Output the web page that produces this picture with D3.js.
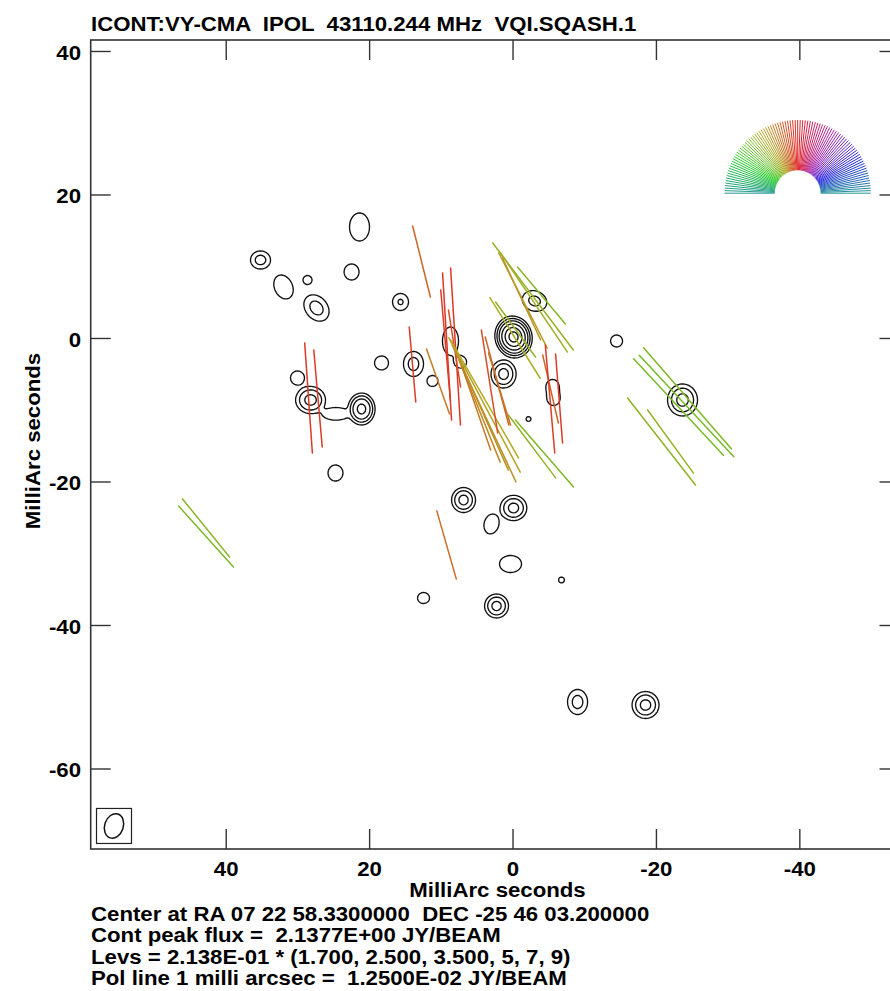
<!DOCTYPE html>
<html><head><meta charset="utf-8">
<script src="https://cdn.jsdelivr.net/npm/d3@7"></script>
<style>body{margin:0;background:#fff}svg{display:block}</style>
</head><body>
<script>
// ---------- data ----------
const title = "ICONT:VY-CMA  IPOL  43110.244 MHz  VQI.SQASH.1";
const xLabel = "MilliArc seconds";
const yLabel = "MilliArc seconds";
const xTicks = [40, 20, 0, -20, -40];
const yTicks = [40, 20, 0, -20, -40, -60];
const xDomain = [58.9, -53.9];
const yDomain = [41.6, -71.15];
const levBase = 0.2138;
const levMult = [1.7, 2.5, 3.5, 5, 7, 9];
const footer = [
  "Center at RA 07 22 58.3300000  DEC -25 46 03.200000",
  "Cont peak flux =  2.1377E+00 JY/BEAM",
  "Levs = 2.138E-01 * (1.700, 2.500, 3.500, 5, 7, 9)",
  "Pol line 1 milli arcsec =  1.2500E-02 JY/BEAM"
];
// continuum components (mas, Jy/beam, sigma mas, PA deg)
const srcX   = [21.41, 35.22, 32.01, 28.66, 22.52, 27.41, 15.69, 18.34, 13.88, 11.23, 30.06, 28.24, 21.13, 24.7, 24.76, 8.72, 7.32, -0.07, 1.32, -3.0, -5.51, -5.65, -2.16, -14.44, -23.64, 6.9, -0.07, 3.0, 0.35, -6.76, 12.48, 2.3, -9.0, -18.48];
const srcY   = [15.54, 10.94, 7.18, 8.15, 9.27, 4.25, 5.09, -3.41, -3.55, -5.92, -5.5, -8.57, -9.83, -10.5, -18.75, -0.35, -3.28, 0.21, -4.95, 5.23, -6.7, -8.35, -11.22, -0.35, -8.57, -22.51, -23.62, -25.85, -31.43, -33.66, -36.17, -37.28, -50.66, -51.08];
const srcAmp = [0.46, 0.62, 0.46, 0.46, 0.46, 0.62, 0.56, 0.46, 0.62, 0.46, 0.46, 0.85, 1.2, 0.5, 0.46, 0.46, 0.46, 2.1377, 0.85, 0.6, 0.46, 0.46, 0.38, 0.46, 0.85, 0.85, 0.85, 0.46, 0.46, 0.38, 0.46, 0.85, 0.62, 0.85];
const srcMaj = [2.85, 1.22, 2.54, 0.92, 1.63, 1.96, 1.275, 1.42, 1.69, 1.12, 1.42, 1.45, 1.44, 1.1, 1.63, 2.85, 1.22, 1.56, 1.5, 1.74, 1.45, 1.45, 1.17, 1.22, 1.71, 1.34, 1.35, 2.05, 1.73, 1.4, 1.12, 1.28, 1.69, 1.44];
const srcMin = [2.03, 1.35, 1.83, 0.92, 1.52, 1.48, 1.2, 1.42, 1.35, 1.12, 1.42, 1.60, 1.22, 2.4, 1.52, 1.63, 1.22, 1.37, 1.34, 1.39, 1.32, 1.32, 1.17, 1.22, 1.6, 1.28, 1.42, 1.5, 2.24, 1.4, 1.22, 1.28, 1.35, 1.44];
const srcPA  = [0, 0, 25, 0, 0, 40, 0, 0, 0, 0, 0, 0, 0, 0, 0, 0, 0, 15, 0, 70, 0, 0, 0, 0, 0, 0, 0, -15, 0, 0, 0, 0, 0, 0];
// polarization vectors: centre (mas), length (mas), EVPA (deg, N through E)
const polX   = [12.76, 28.52, 27.2, 14.02, 10.46, 9.2, 8.02, 9.41, 8.16, 3.97, 4.04, 4.32, 4.67, 5.09, 3.97, 3.28, 2.23, 1.88, -2.79, -2.93, -3.97, -1.39, -1.19, -0.28, -0.35, -5.23, -5.16, -6.42, -2.65, -4.39, -24.34, -24.2, -23.08, -20.71, -21.97, 42.82, 42.82, 9.27];
const polY   = [10.73, -8.29, -8.36, -3.62, -5.99, -1.11, -1.11, -0.91, -1.39, -9.27, -10.45, -10.1, -10.1, -9.83, -8.43, -5.99, -5.92, -7.04, 5.85, 5.02, 5.99, 5.3, 5.51, 0.07, 1.25, -7.04, -8.43, -8.36, -15.05, -16.03, -8.36, -9.41, -9.55, -14.36, -14.36, -26.41, -27.6, -28.78];
const polLen = [10.21, 15.38, 13.58, 10.49, 9.62, 20.54, 21.94, 15.41, 10.88, 21.2, 21.03, 18.05, 15.38, 12.08, 19.0, 14.53, 12.69, 10.5, 18.69, 16.67, 10.39, 14.91, 12.61, 13.24, 9.48, 9.75, 15.12, 12.45, 10.96, 12.36, 18.69, 19.34, 18.35, 15.4, 10.88, 10.42, 11.45, 9.89];
const polAng = [14, 4, 5, 5, 19.5, 3.5, 3.6, 5, 9, 28, 25, 24, 22, 19, 30, 9, 15, 17, 37, 34, 40, 27, 25, 32, 36, 13, 5, 4.5, 37, 41, 41, 43, 43, 38, 36, 39, 42, 16];
// restoring beam (mas, deg) and its box
const beam = {x: 55.65, y: -67.94, maj: 3.5, min: 2.6, pa: -18, box: 2.44};
// polarization-angle key
const keyCentre = [-39.7, 20.25];
const keyRadius = [3.2, 10.2];

// ---------- layout ----------
const W = 890, H = 991;
const px0 = 90.7, px1 = 899.5, py0 = 40, py1 = 849;
const xs = d3.scaleLinear().domain(xDomain).range([px0, px1]);
const ys = d3.scaleLinear().domain(yDomain).range([py0, py1]);
const FONT = "'Liberation Sans', Arial, Helvetica, sans-serif";
// AIPS-like colour wheel: red, olive-yellow, green, teal, blue, purple
const wheel = [[1,0,0],[0.75,0.7,0],[0,0.9,0],[0,0.6,0.6],[0,0,1],[0.7,0,0.7],[1,0,0]];
const polColor = a => {
  const h = (((2 * a) % 360) + 360) % 360, s = h / 60, k = Math.min(5, Math.floor(s)), f = s - k;
  const c0 = wheel[k], c1 = wheel[k + 1];
  const rgb = c0.map((v, i) => v + (c1[i] - v) * f);
  const m = 0.15;
  return d3.rgb(...rgb.map(v => 255 * (m + (1 - m) * v * 0.87))).formatHex();
};

const svg = d3.select("body").append("svg").attr("width", W).attr("height", H)
  .style("font-family", FONT).style("font-weight", "bold");

svg.append("defs").append("clipPath").attr("id", "clip")
  .append("rect").attr("x", px0).attr("y", py0).attr("width", px1 - px0).attr("height", py1 - py0);
const plot = svg.append("g").attr("clip-path", "url(#clip)");

// ---------- contour field ----------
const res = 0.2;
const nx = Math.ceil((xDomain[0] - xDomain[1]) / res) + 1;
const ny = Math.ceil((yDomain[0] - yDomain[1]) / res) + 1;
const values = new Float64Array(nx * ny);
srcX.forEach((sx, k) => {
  const sy = srcY[k], A = srcAmp[k], a = srcMaj[k], b = srcMin[k];
  const pa = srcPA[k] * Math.PI / 180, su = Math.sin(pa), cu = Math.cos(pa);
  const rad = 6 * Math.max(a, b);
  const i0 = Math.max(0, Math.floor((xDomain[0] - (sx + rad)) / res));
  const i1 = Math.min(nx - 1, Math.ceil((xDomain[0] - (sx - rad)) / res));
  const j0 = Math.max(0, Math.floor((yDomain[0] - (sy + rad)) / res));
  const j1 = Math.min(ny - 1, Math.ceil((yDomain[0] - (sy - rad)) / res));
  for (let j = j0; j <= j1; j++) {
    const dy = (yDomain[0] - j * res) - sy;
    for (let i = i0; i <= i1; i++) {
      const dx = (xDomain[0] - i * res) - sx;
      const u = dx * su + dy * cu, v = dx * cu - dy * su;
      const g = A * Math.exp(-0.5 * (u * u / (a * a) + v * v / (b * b)));
      values[j * nx + i] += Math.pow(g, 4);
    }
  }
});
for (let n = 0; n < values.length; n++) values[n] = Math.pow(values[n], 0.25);

const levels = levMult.map(m => m * levBase);
const contours = d3.contours().size([nx, ny]).thresholds(levels)(values);
const proj = d3.geoTransform({
  point: function (x, y) {
    this.stream.point(xs(xDomain[0] - (x - 0.5) * res), ys(yDomain[0] - (y - 0.5) * res));
  }
});
const path = d3.geoPath(proj);
plot.append("g").selectAll("path").data(contours).join("path")
  .attr("d", path).attr("fill", "none").attr("stroke", "#111").attr("stroke-width", 1.35)
  .attr("stroke-linejoin", "round");

// ---------- polarization vectors ----------
const polData = polX.map((x, k) => ({x, y: polY[k], L: polLen[k], a: polAng[k]}));
const seg = d => {
  const t = d.a * Math.PI / 180, h = d.L / 2;
  return [d.x + h * Math.sin(t), d.y + h * Math.cos(t), d.x - h * Math.sin(t), d.y - h * Math.cos(t)];
};
plot.append("g").selectAll("line").data(polData).join("line")
  .attr("x1", d => xs(seg(d)[0])).attr("y1", d => ys(seg(d)[1]))
  .attr("x2", d => xs(seg(d)[2])).attr("y2", d => ys(seg(d)[3]))
  .attr("stroke", d => polColor(d.a)).attr("stroke-width", 1.5).attr("stroke-linecap", "round");

// ---------- angle key ----------
const keyAngles = d3.range(-90, 90.01, 2);
plot.append("g").selectAll("line").data(keyAngles).join("line")
  .attr("x1", a => xs(keyCentre[0] + keyRadius[0] * Math.sin(a * Math.PI / 180)))
  .attr("y1", a => ys(keyCentre[1] + keyRadius[0] * Math.cos(a * Math.PI / 180)))
  .attr("x2", a => xs(keyCentre[0] + keyRadius[1] * Math.sin(a * Math.PI / 180)))
  .attr("y2", a => ys(keyCentre[1] + keyRadius[1] * Math.cos(a * Math.PI / 180)))
  .attr("stroke", a => polColor(a)).attr("stroke-width", 1);

// ---------- beam ----------
plot.append("rect")
  .attr("x", xs(beam.x + beam.box)).attr("y", ys(beam.y + beam.box))
  .attr("width", xs(beam.x - beam.box) - xs(beam.x + beam.box))
  .attr("height", ys(beam.y - beam.box) - ys(beam.y + beam.box))
  .attr("fill", "none").attr("stroke", "#222").attr("stroke-width", 1.2);
plot.append("ellipse")
  .attr("cx", xs(beam.x)).attr("cy", ys(beam.y))
  .attr("rx", Math.abs(xs(beam.min / 2) - xs(0))).attr("ry", Math.abs(ys(beam.maj / 2) - ys(0)))
  .attr("transform", `rotate(${-beam.pa},${xs(beam.x)},${ys(beam.y)})`)
  .attr("fill", "none").attr("stroke", "#111").attr("stroke-width", 1.5);

// ---------- frame, ticks ----------
const TL = 20;
const axes = svg.append("g").attr("stroke", "#333").attr("stroke-width", 1.4);
xTicks.forEach(t => {
  axes.append("line").attr("x1", xs(t)).attr("x2", xs(t)).attr("y1", py1).attr("y2", py1 - TL);
  axes.append("line").attr("x1", xs(t)).attr("x2", xs(t)).attr("y1", py0).attr("y2", py0 + TL);
});
yTicks.forEach(t => {
  axes.append("line").attr("x1", px0).attr("x2", px0 + TL).attr("y1", ys(t)).attr("y2", ys(t));
  axes.append("line").attr("x1", px1).attr("x2", px1 - TL).attr("y1", ys(t)).attr("y2", ys(t));
});
svg.append("rect").attr("x", px0).attr("y", py0).attr("width", px1 - px0).attr("height", py1 - py0)
  .attr("fill", "none").attr("stroke", "#333").attr("stroke-width", 1.6);

const FS = 20;
svg.append("g").selectAll("text").data(xTicks).join("text")
  .attr("x", d => xs(d)).attr("y", 876).attr("text-anchor", "middle")
  .attr("font-size", FS).text(d => d);
svg.append("g").selectAll("text").data(yTicks).join("text")
  .attr("x", 81).attr("y", d => ys(d) + 8.3).attr("text-anchor", "end")
  .attr("font-size", FS).text(d => d);

svg.append("text").attr("x", 91).attr("y", 30.5).attr("font-size", FS)
  .style("white-space", "pre").text(title);
svg.append("text").attr("x", 497.5).attr("y", 896.5).attr("text-anchor", "middle")
  .attr("font-size", FS).text(xLabel);
svg.append("text").attr("transform", "translate(40,441) rotate(-90)").attr("text-anchor", "middle")
  .attr("font-size", FS).text(yLabel);
svg.append("g").selectAll("text").data(footer).join("text")
  .attr("x", 91).attr("y", (d, i) => 920.7 + i * 21.5).attr("font-size", FS)
  .style("white-space", "pre").text(d => d);

// the original plot font is a little wider than Liberation Sans
svg.selectAll("text").each(function () {
  const w = this.getComputedTextLength();
  d3.select(this).attr("textLength", w * 1.11).attr("lengthAdjust", "spacingAndGlyphs");
});
</script>
</body></html>
